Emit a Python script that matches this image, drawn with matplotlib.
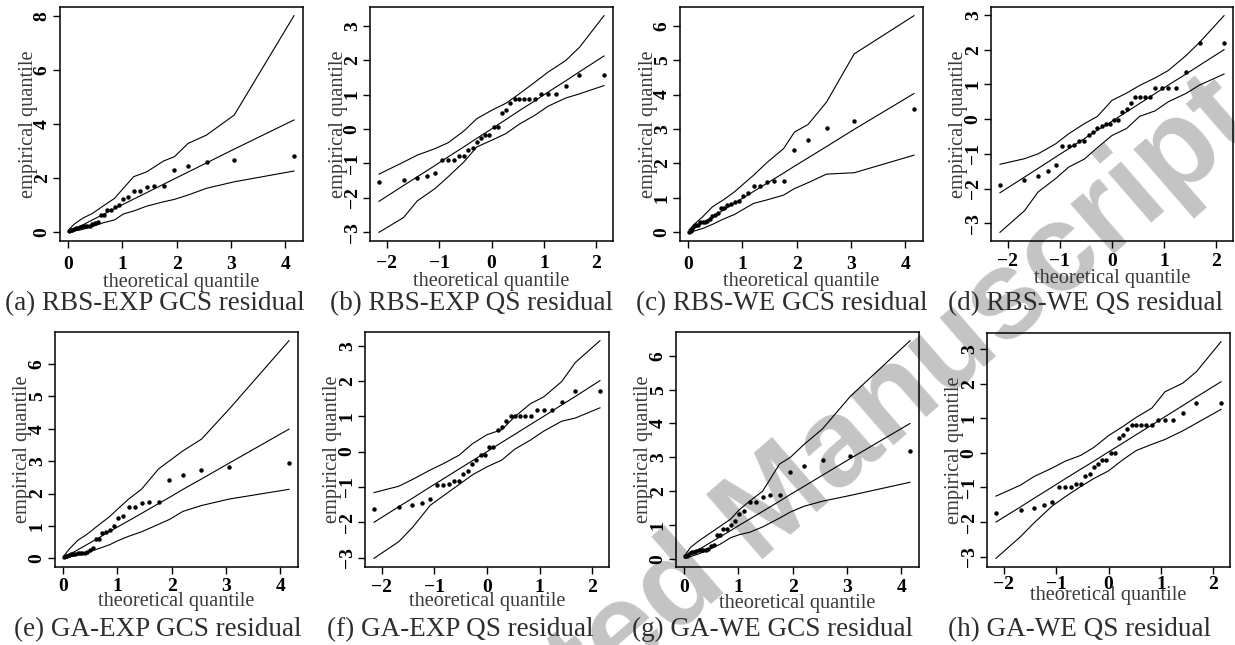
import matplotlib
matplotlib.use("Agg")
import matplotlib.pyplot as plt

plt.rcParams['font.family'] = ['Liberation Serif', 'DejaVu Serif']

W, H = 1235, 645

# theoretical quantiles on the x axis (32 points per panel)
exp_q = [0.02, 0.05, 0.08, 0.12, 0.15, 0.19, 0.23, 0.27, 0.31, 0.35, 0.40, 0.45, 0.50, 0.55, 0.60, 0.66,
         0.72, 0.79, 0.86, 0.94, 1.02, 1.11, 1.21, 1.33, 1.45, 1.59, 1.76, 1.96, 2.21, 2.55, 3.06, 4.16]
norm_q = [-2.15, -1.68, -1.42, -1.23, -1.08, -0.95, -0.83, -0.72, -0.63, -0.53, -0.45, -0.36, -0.28, -0.20, -0.12, -0.04,
          0.04, 0.12, 0.20, 0.28, 0.36, 0.45, 0.53, 0.63, 0.72, 0.83, 0.95, 1.08, 1.23, 1.42, 1.68, 2.15]

# x positions where the envelope lines were read
exp_knots = [0.02, 0.12, 0.27, 0.45, 0.66, 0.86, 1.02, 1.21, 1.45, 1.76, 1.96, 2.21, 2.55, 3.06, 4.16]
norm_knots = [-2.15, -1.68, -1.42, -1.08, -0.83, -0.53, -0.28, 0.0, 0.28, 0.53, 0.83, 1.08, 1.42, 1.68, 2.15]

# (a) RBS-EXP GCS
rbs_exp_gcs = [0.05, 0.07, 0.10, 0.13, 0.15, 0.17, 0.20, 0.22, 0.22, 0.23, 0.25, 0.29, 0.34, 0.39, 0.65, 0.66,
               0.81, 0.82, 0.92, 1.03, 1.23, 1.32, 1.54, 1.54, 1.66, 1.70, 1.71, 2.29, 2.45, 2.59, 2.69, 2.82]
rbs_exp_gcs_lo = [0.00, 0.05, 0.11, 0.21, 0.36, 0.46, 0.68, 0.79, 0.97, 1.13, 1.22, 1.38, 1.63, 1.87, 2.27]
rbs_exp_gcs_mid = [0.02, 0.12, 0.27, 0.46, 0.67, 0.88, 1.04, 1.23, 1.47, 1.78, 1.98, 2.23, 2.57, 3.08, 4.16]
rbs_exp_gcs_hi = [0.11, 0.31, 0.52, 0.70, 0.99, 1.26, 1.63, 2.06, 2.24, 2.64, 2.80, 3.29, 3.60, 4.34, 8.02]

# (b) RBS-EXP QS
rbs_exp_qs = [-1.54, -1.49, -1.43, -1.36, -1.27, -0.90, -0.90, -0.89, -0.79, -0.79, -0.60, -0.55, -0.37, -0.27, -0.17, -0.17,
              0.05, 0.05, 0.47, 0.56, 0.75, 0.87, 0.87, 0.87, 0.87, 0.87, 1.03, 1.03, 1.03, 1.24, 1.58, 1.58]
rbs_exp_qs_lo = [-3.00, -2.57, -2.09, -1.73, -1.39, -0.96, -0.52, -0.33, -0.13, 0.14, 0.40, 0.66, 0.90, 1.02, 1.26]
rbs_exp_qs_mid = [-2.10, -1.64, -1.39, -1.06, -0.81, -0.52, -0.27, 0.00, 0.28, 0.53, 0.82, 1.07, 1.40, 1.66, 2.12]
rbs_exp_qs_hi = [-1.31, -0.96, -0.76, -0.57, -0.40, -0.06, 0.30, 0.54, 0.75, 1.02, 1.36, 1.65, 1.99, 2.37, 3.29]

# (c) RBS-WE GCS
rbs_we_gcs = [0.02, 0.04, 0.10, 0.17, 0.20, 0.21, 0.30, 0.31, 0.31, 0.32, 0.38, 0.47, 0.50, 0.55, 0.71, 0.72,
              0.80, 0.82, 0.87, 0.92, 1.05, 1.13, 1.34, 1.34, 1.47, 1.50, 1.50, 2.40, 2.69, 3.02, 3.24, 3.59]
rbs_we_gcs_lo = [0.00, 0.04, 0.11, 0.23, 0.39, 0.52, 0.67, 0.84, 0.94, 1.08, 1.27, 1.44, 1.69, 1.73, 2.24]
rbs_we_gcs_mid = [0.02, 0.12, 0.27, 0.45, 0.65, 0.85, 1.00, 1.19, 1.42, 1.72, 1.92, 2.16, 2.49, 2.99, 4.03]
rbs_we_gcs_hi = [0.07, 0.24, 0.45, 0.74, 0.95, 1.18, 1.40, 1.66, 2.02, 2.43, 2.91, 3.13, 3.78, 5.18, 6.29]

# (d) RBS-WE QS
rbs_we_qs = [-1.90, -1.76, -1.65, -1.50, -1.32, -0.77, -0.77, -0.74, -0.63, -0.63, -0.45, -0.37, -0.26, -0.21, -0.13, -0.13,
             -0.02, -0.02, 0.20, 0.28, 0.46, 0.63, 0.63, 0.63, 0.63, 0.90, 0.90, 0.90, 0.90, 1.37, 2.18, 2.18]
rbs_we_qs_lo = [-3.26, -2.64, -2.10, -1.71, -1.38, -1.15, -0.82, -0.47, -0.27, 0.08, 0.24, 0.50, 0.74, 0.98, 1.30]
rbs_we_qs_mid = [-2.12, -1.67, -1.42, -1.09, -0.85, -0.56, -0.32, -0.06, 0.21, 0.45, 0.74, 0.98, 1.30, 1.55, 2.00]
rbs_we_qs_hi = [-1.30, -1.14, -1.00, -0.71, -0.42, -0.13, 0.08, 0.54, 0.75, 0.97, 1.19, 1.40, 1.83, 2.21, 2.98]

# (e) GA-EXP GCS
ga_exp_gcs = [0.04, 0.06, 0.08, 0.10, 0.12, 0.13, 0.14, 0.15, 0.16, 0.16, 0.17, 0.20, 0.27, 0.31, 0.60, 0.60,
              0.78, 0.80, 0.88, 0.99, 1.23, 1.32, 1.58, 1.58, 1.71, 1.75, 1.75, 2.41, 2.57, 2.73, 2.82, 2.95]
ga_exp_gcs_lo = [0.00, 0.04, 0.10, 0.18, 0.30, 0.42, 0.55, 0.68, 0.82, 1.05, 1.20, 1.45, 1.63, 1.83, 2.13]
ga_exp_gcs_mid = [0.02, 0.12, 0.26, 0.43, 0.63, 0.83, 0.98, 1.16, 1.39, 1.69, 1.88, 2.13, 2.45, 2.94, 3.99]
ga_exp_gcs_hi = [0.08, 0.29, 0.55, 0.75, 1.03, 1.29, 1.54, 1.83, 2.14, 2.76, 3.01, 3.32, 3.68, 4.61, 6.72]

# (f) GA-EXP QS
ga_exp_qs = [-1.63, -1.56, -1.51, -1.45, -1.35, -0.94, -0.94, -0.92, -0.83, -0.83, -0.64, -0.55, -0.34, -0.23, -0.09, -0.09,
             0.12, 0.12, 0.60, 0.70, 0.88, 1.02, 1.02, 1.02, 1.02, 1.02, 1.19, 1.19, 1.19, 1.40, 1.73, 1.73]
ga_exp_qs_lo = [-3.02, -2.55, -2.15, -1.52, -1.25, -0.93, -0.66, -0.43, -0.24, 0.07, 0.33, 0.58, 0.86, 0.95, 1.24]
ga_exp_qs_mid = [-2.00, -1.56, -1.32, -1.00, -0.77, -0.49, -0.26, 0.00, 0.26, 0.49, 0.77, 1.00, 1.32, 1.56, 2.01]
ga_exp_qs_hi = [-1.16, -0.98, -0.79, -0.52, -0.34, -0.10, 0.22, 0.48, 0.62, 0.99, 1.36, 1.55, 1.98, 2.52, 3.14]

# (g) GA-WE GCS
ga_we_gcs = [0.07, 0.08, 0.12, 0.17, 0.19, 0.21, 0.24, 0.25, 0.25, 0.25, 0.26, 0.29, 0.37, 0.41, 0.69, 0.69,
             0.87, 0.88, 1.00, 1.10, 1.32, 1.41, 1.69, 1.69, 1.83, 1.87, 1.87, 2.57, 2.75, 2.92, 3.03, 3.18]
ga_we_gcs_lo = [0.01, 0.06, 0.14, 0.26, 0.42, 0.62, 0.71, 0.78, 0.94, 1.20, 1.38, 1.55, 1.70, 1.87, 2.26]
ga_we_gcs_mid = [0.02, 0.12, 0.26, 0.44, 0.64, 0.83, 0.99, 1.17, 1.40, 1.70, 1.90, 2.14, 2.47, 2.96, 4.00]
ga_we_gcs_hi = [0.10, 0.33, 0.52, 0.72, 0.95, 1.17, 1.45, 1.70, 2.00, 2.80, 3.00, 3.38, 3.84, 4.80, 6.45]

# (h) GA-WE QS
ga_we_qs = [-1.73, -1.65, -1.60, -1.51, -1.42, -1.00, -1.00, -0.98, -0.89, -0.89, -0.68, -0.61, -0.42, -0.32, -0.20, -0.20,
            0.01, 0.01, 0.43, 0.51, 0.69, 0.80, 0.80, 0.80, 0.80, 0.80, 0.96, 0.96, 0.96, 1.15, 1.45, 1.45]
ga_we_qs_lo = [-3.05, -2.42, -2.02, -1.54, -1.27, -0.97, -0.74, -0.52, -0.19, 0.07, 0.25, 0.39, 0.64, 0.86, 1.26]
ga_we_qs_mid = [-2.00, -1.56, -1.31, -0.99, -0.75, -0.47, -0.24, 0.03, 0.29, 0.53, 0.81, 1.05, 1.37, 1.62, 2.06]
ga_we_qs_hi = [-1.25, -0.93, -0.68, -0.44, -0.24, -0.07, 0.16, 0.50, 0.77, 1.03, 1.30, 1.77, 2.02, 2.35, 3.22]

captions = ["(a) RBS-EXP GCS residual", "(b) RBS-EXP QS residual", "(c) RBS-WE GCS residual",
            "(d) RBS-WE QS residual", "(e) GA-EXP GCS residual", "(f) GA-EXP QS residual",
            "(g) GA-WE GCS residual", "(h) GA-WE QS residual"]
gcs_xticks = [0, 1, 2, 3, 4]
qs_xticks = [-2, -1, 0, 1, 2]
qs_yticks = [-3, -2, -1, 0, 1, 2, 3]

panels = [
    (exp_q, rbs_exp_gcs, exp_knots, rbs_exp_gcs_lo, rbs_exp_gcs_mid, rbs_exp_gcs_hi, gcs_xticks, [0, 2, 4, 6, 8]),
    (norm_q, rbs_exp_qs, norm_knots, rbs_exp_qs_lo, rbs_exp_qs_mid, rbs_exp_qs_hi, qs_xticks, qs_yticks),
    (exp_q, rbs_we_gcs, exp_knots, rbs_we_gcs_lo, rbs_we_gcs_mid, rbs_we_gcs_hi, gcs_xticks, [0, 1, 2, 3, 4, 5, 6]),
    (norm_q, rbs_we_qs, norm_knots, rbs_we_qs_lo, rbs_we_qs_mid, rbs_we_qs_hi, qs_xticks, qs_yticks),
    (exp_q, ga_exp_gcs, exp_knots, ga_exp_gcs_lo, ga_exp_gcs_mid, ga_exp_gcs_hi, gcs_xticks, [0, 1, 2, 3, 4, 5, 6]),
    (norm_q, ga_exp_qs, norm_knots, ga_exp_qs_lo, ga_exp_qs_mid, ga_exp_qs_hi, qs_xticks, qs_yticks),
    (exp_q, ga_we_gcs, exp_knots, ga_we_gcs_lo, ga_we_gcs_mid, ga_we_gcs_hi, gcs_xticks, [0, 1, 2, 3, 4, 5, 6]),
    (norm_q, ga_we_qs, norm_knots, ga_we_qs_lo, ga_we_qs_mid, ga_we_qs_hi, qs_xticks, qs_yticks),
]

# pixel layout: left, top, right, bottom, x tick pad (pt), xlabel baseline, caption centre x, caption baseline
boxes = [
    (60, 7, 303, 241, 6.1, 287, 155, 310),
    (370, 7, 613, 241, 5.4, 286, 471, 310),
    (680, 7, 923, 241, 6.1, 286, 782, 310),
    (991, 7, 1233, 241, 4.0, 283, 1086, 310),
    (55, 332, 298, 567, 3.2, 606, 158, 636),
    (365, 332, 609, 567, 4.0, 606, 460, 636),
    (676, 332, 919, 567, 4.0, 608, 772, 636),
    (987, 333, 1230, 567, 1.5, 600, 1080, 636),
]


def fx(px):
    return px / W


def fy(py):
    return 1 - py / H


fig = plt.figure(figsize=(W / 100, H / 100), dpi=100)

# watermark behind the panels
fig.text(fx(762), fy(518), "Accepted Manuscript", rotation=41, rotation_mode='anchor',
         ha='center', va='center', fontsize=90, color='#c4c4c4',
         family='Liberation Sans', weight='bold', zorder=-1)

for (qx, emp, kx, lo, mid, hi, xt, yt), (l, t, r, b, pad, xlab_y, cap_x, cap_y), cap in zip(panels, boxes, captions):
    ax = fig.add_axes([fx(l), fy(b), (r - l) / W, (b - t) / H])
    ax.set_facecolor('none')
    for env in (lo, mid, hi):
        ax.plot(kx, env, color='black', lw=0.8)
    ax.plot(qx, emp, 'o', color='black', ms=3.2, mew=0)
    ax.margins(0.04)
    ax.set_xticks(xt)
    ax.set_yticks(yt)
    ax.tick_params(direction='out', length=4.7, width=1.0, labelsize=14, colors='black')
    ax.tick_params(axis='x', pad=pad)
    ax.tick_params(axis='y', pad=2, labelrotation=90)
    for lab in ax.get_xticklabels() + ax.get_yticklabels():
        lab.set_fontweight('bold')
    for lab in ax.get_yticklabels():
        lab.set_verticalalignment('center')
    for s in ax.spines.values():
        s.set_linewidth(1.1)

    fig.text(fx((l + r) / 2), fy(xlab_y), 'theoretical quantile', ha='center', va='baseline',
             fontsize=14.7, color='#3a3a3a')
    fig.text(fx(l - 32), fy((t + b) / 2), 'empirical quantile', rotation=90, ha='center', va='center',
             fontsize=14.7, color='#3a3a3a')
    fig.text(fx(cap_x), fy(cap_y), cap, ha='center', va='baseline', fontsize=19.5, color='#2e2e2e')

fig.savefig('out.png', dpi=100)
